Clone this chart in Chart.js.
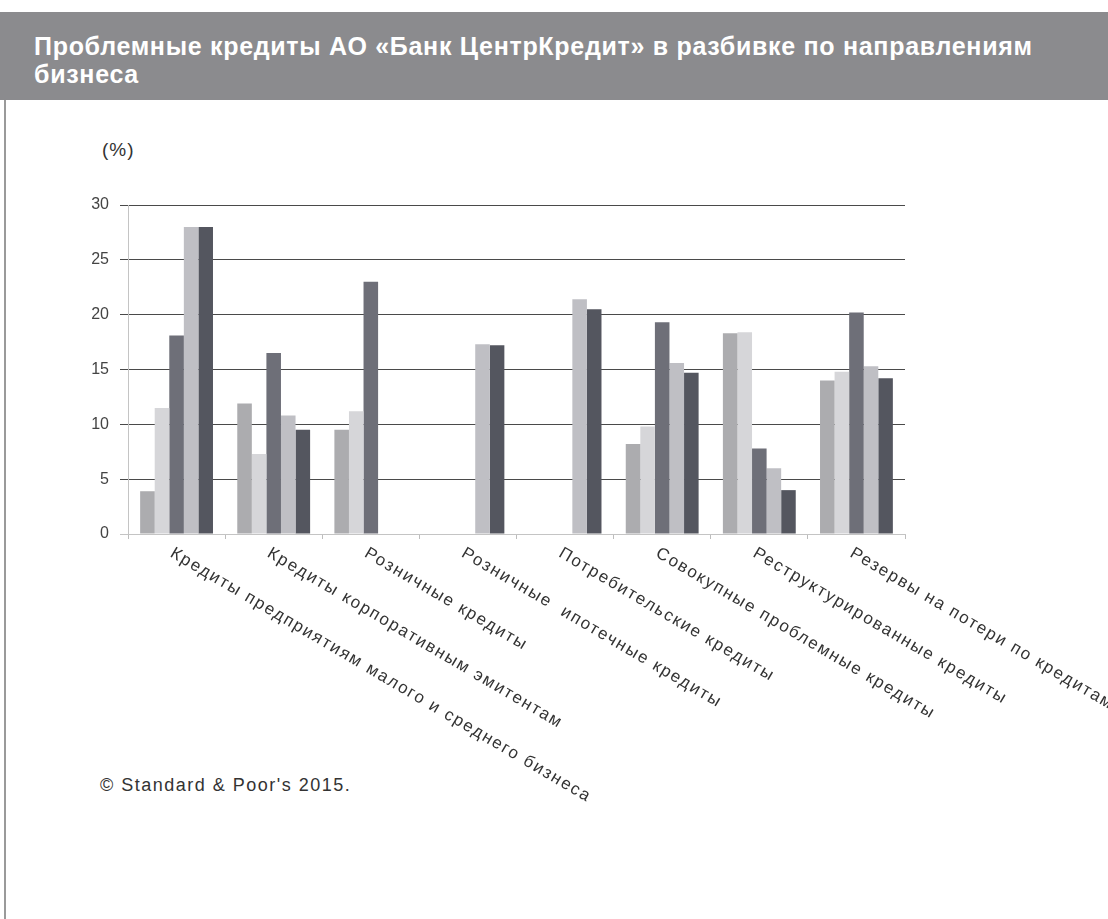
<!DOCTYPE html>
<html lang="ru">
<head>
<meta charset="utf-8">
<script src="https://cdn.jsdelivr.net/npm/chart.js@4"></script>
<style>
    html, body { margin: 0; padding: 0; background: #fff; }
    body { width: 1108px; height: 919px; position: relative; overflow: hidden; font-family: "Liberation Sans", Arial, sans-serif; }
    .banner { position: absolute; left: 0; top: 12px; width: 1108px; height: 88px; background: #8b8b8e; }
    .banner h1 { margin: 0; padding: 20px 0 0 34px; color: #fff; font-size: 25px; line-height: 28px; font-weight: bold; width: 1050px; letter-spacing: 0.7px; }
    .frame { position: absolute; left: 4px; top: 100px; width: 0; height: 819px; border-left: 2px solid #9a9a9a; }
    .unit { position: absolute; left: 102px; top: 139px; font-size: 19px; color: #333; letter-spacing: 1px; }
    .source { position: absolute; left: 100px; top: 775px; font-size: 18px; color: #333; letter-spacing: 1.5px; }
    #chart-wrap { position: absolute; left: 0; top: 0; width: 1108px; height: 919px; }
</style>
</head>
<body>
<div class="banner"><h1>Проблемные кредиты АО «Банк ЦентрКредит» в разбивке по направлениям бизнеса</h1></div>
<div class="frame"></div>
<div class="unit">(%)</div>
<div class="source">© Standard &amp; Poor's 2015.</div>
<div id="chart-wrap"><canvas id="loans-chart" width="1108" height="919"></canvas></div>
<script>
/* Проблемные кредиты по направлениям бизнеса */

const categories = [
    'Кредиты предприятиям малого и среднего бизнеса',
    'Кредиты корпоративным эмитентам',
    'Розничные кредиты',
    'Розничные  ипотечные кредиты',
    'Потребительские кредиты',
    'Совокупные проблемные кредиты',
    'Реструктурированные кредиты',
    'Резервы на потери по кредитам'
];

// пять рядов (легенда на исходном графике не показана)
const series1 = [3.9, 11.9, 9.5, null, null, 8.2, 18.3, 14.0];
const series2 = [11.5, 7.3, 11.2, null, null, 9.8, 18.4, 14.8];
const series3 = [18.1, 16.5, 23.0, null, null, 19.3, 7.8, 20.2];
const series4 = [28.0, 10.8, null, 17.3, 21.4, 15.6, 6.0, 15.3];
const series5 = [28.0, 9.5, null, 17.2, 20.5, 14.7, 4.0, 14.2];

const yTicks = [0, 5, 10, 15, 20, 25, 30];

const seriesData = [series1, series2, series3, series4, series5];
const seriesColors = ['#acacaf', '#d6d6d9', '#6e6f78', '#bfbfc4', '#54565f'];

// подписи категорий наклонены по часовой стрелке, рисуем сами
const slantLabels = {
    id: 'slantLabels',
    afterDraw(chart) {
        const ctx = chart.ctx;
        const xs = chart.scales.x;
        const y0 = chart.chartArea.bottom + 18;
        ctx.save();
        ctx.font = '17px "Liberation Sans", Arial, sans-serif';
        ctx.fillStyle = '#333';
        ctx.textAlign = 'left';
        ctx.textBaseline = 'middle';
        if ('letterSpacing' in ctx) ctx.letterSpacing = '1.75px';
        categories.forEach((c, i) => {
            const x = xs.getPixelForValue(i) - 5;
            ctx.save();
            ctx.translate(x, y0);
            ctx.rotate(30.5 * Math.PI / 180);
            ctx.fillText(c, 0, 0);
            ctx.restore();
        });
        ctx.restore();
    }
};

const ctx = document.getElementById('loans-chart').getContext('2d');
new Chart(ctx, {
    type: 'bar',
    data: {
        labels: categories,
        datasets: seriesData.map((d, i) => ({
            label: 'Ряд ' + (i + 1),
            data: d,
            backgroundColor: seriesColors[i],
            borderWidth: 0,
            categoryPercentage: 0.75,
            barPercentage: 1.0
        }))
    },
    options: {
        responsive: false,
        animation: false,
        layout: { padding: { left: 60, right: 203, top: 205, bottom: 385 } },
        scales: {
            x: {
                offset: true,
                grid: {
                    offset: true,
                    drawOnChartArea: false,
                    drawTicks: true,
                    tickLength: 5,
                    color: '#bdbdbd'
                },
                border: { color: '#c4c4c4', width: 1 },
                ticks: { display: false },
                afterFit: s => { s.height = 0; }
            },
            y: {
                min: 0,
                max: 30,
                afterBuildTicks: s => { s.ticks = yTicks.map(v => ({ value: v })); },
                grid: {
                    color: c => c.tick && c.tick.value === 0 ? '#c4c4c4' : '#4a4a4a',
                    lineWidth: 1,
                    tickLength: 8,
                    drawTicks: true
                },
                border: { color: '#c4c4c4', width: 1 },
                ticks: {
                    padding: 11,
                    color: '#444',
                    font: { family: '"Liberation Sans", Arial, sans-serif', size: 16 }
                },
                afterFit: s => { s.width = 68; }
            }
        },
        plugins: {
            legend: { display: false },
            tooltip: { enabled: false }
        }
    },
    plugins: [slantLabels]
});
</script>
</body>
</html>
